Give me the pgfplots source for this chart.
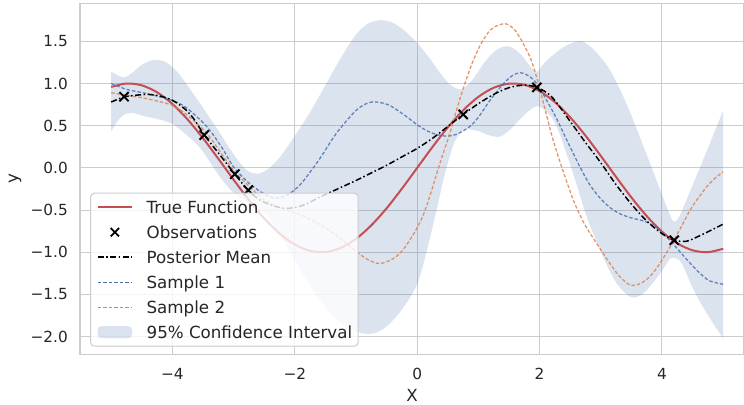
\documentclass[border=0pt]{standalone}
\usepackage{fontspec}
\setmainfont{DejaVu Sans}
\usepackage{pgfplots}
\pgfplotsset{compat=1.18}
\usepgfplotslibrary{fillbetween}
\definecolor{sred}{HTML}{C44E52}
\definecolor{sblue}{HTML}{4C72B0}
\definecolor{sorange}{HTML}{DD8452}
\definecolor{sgrid}{HTML}{CCCCCC}
\definecolor{stext}{HTML}{262626}
\pgfplotsset{bandlegend/.style={legend image code/.code={\fill[##1] (0bp,-6bp) rectangle (34.7bp,6bp);}}}
\begin{document}
\begin{tikzpicture}
\begin{axis}[
 at={(0,0)}, anchor=south west,
 scale only axis, width=664bp, height=351bp,
 xmin=-5.51, xmax=5.34, ymin=-2.21, ymax=1.95,
 axis line style={draw=sgrid, line width=1.25bp},
 grid=major, major grid style={draw=sgrid, line width=1bp},
 major tick length=0pt,
 xtick={-4,-2,0,2,4}, xticklabels={−4,−2,0,2,4},
 ytick={-2,-1.5,-1,-0.5,0,0.5,1,1.5},
 yticklabels={−2.0,−1.5,−1.0,−0.5,0.0,0.5,1.0,1.5},
 tick label style={font=\fontsize{15.3bp}{18bp}\selectfont, text=stext, inner sep=0pt},
 xticklabel style={anchor=center, yshift=-19.3bp},
 yticklabel style={anchor=east, xshift=-12bp},
 xlabel={X}, ylabel={y},
 label style={font=\fontsize{16.7bp}{20bp}\selectfont, text=stext, inner sep=0pt},
 xlabel style={at={(axis description cs:0.5,-0.1168)}, anchor=center},
 ylabel style={at={(axis description cs:-0.0979,0.5)}, anchor=center},
 legend cell align=left,
 legend image code/.code={\draw[mark repeat=2,mark phase=2,#1] plot coordinates {(0bp,0bp) (17.35bp,0bp) (34.7bp,0bp)};},
 legend style={at={(axis description cs:0.0151,0.4604)}, anchor=north west,
   draw=sgrid, line width=1bp, fill=white, fill opacity=0.8, text opacity=1, draw opacity=1,
   rounded corners=4bp, inner xsep=6bp, inner ysep=1.5bp,
   font=\fontsize{16.7bp}{20bp}\selectfont, text=stext, row sep=0pt,
   nodes={inner sep=0pt, text height=18.6bp, text depth=6.4bp},
   /tikz/every odd column/.append style={column sep=13.4bp}},
]
% 95% confidence band
\addplot[name path=up, draw=none, smooth, forget plot] coordinates {
(-5.00,1.14) (-4.90,1.10) (-4.79,1.07) (-4.65,1.13) (-4.50,1.22) (-4.30,1.28)
(-4.10,1.25) (-3.90,1.12) (-3.70,0.92) (-3.48,0.69) (-3.25,0.44) (-3.00,0.16)
(-2.80,-0.02) (-2.62,-0.07) (-2.45,-0.02) (-2.25,0.12) (-2.00,0.38) (-1.75,0.66)
(-1.50,0.98) (-1.25,1.30) (-1.00,1.58) (-0.80,1.71) (-0.60,1.75) (-0.40,1.72)
(-0.20,1.62) (0.00,1.48) (0.20,1.30) (0.40,1.10) (0.55,0.98) (0.72,0.93)
(0.90,1.04) (1.10,1.25) (1.30,1.40) (1.50,1.44) (1.70,1.34) (1.85,1.20)
(1.96,1.14) (2.10,1.26) (2.33,1.40) (2.50,1.47) (2.69,1.50) (2.90,1.39)
(3.15,1.16) (3.42,0.76) (3.70,0.25) (3.97,-0.26) (4.13,-0.56) (4.20,-0.64)
(4.28,-0.58) (4.40,-0.38) (4.67,0.09) (5.00,0.68)};
\addplot[name path=lo, draw=none, smooth, forget plot] coordinates {
(-5.00,0.43) (-4.90,0.55) (-4.79,0.63) (-4.64,0.65) (-4.45,0.61) (-4.20,0.57)
(-4.00,0.52) (-3.80,0.41) (-3.60,0.28) (-3.48,0.17) (-3.22,-0.11) (-3.00,-0.30)
(-2.85,-0.37) (-2.70,-0.44) (-2.46,-0.56) (-2.20,-0.85) (-2.00,-1.10) (-1.70,-1.45)
(-1.40,-1.74) (-1.15,-1.89) (-0.90,-1.96) (-0.70,-1.96) (-0.50,-1.88) (-0.25,-1.68)
(0.00,-1.38) (0.15,-1.00) (0.30,-0.55) (0.45,-0.08) (0.60,0.29) (0.75,0.45)
(0.90,0.45) (1.02,0.43) (1.20,0.38) (1.35,0.37) (1.50,0.44) (1.62,0.53)
(1.80,0.66) (1.96,0.73) (2.12,0.66) (2.28,0.49) (2.55,-0.07) (2.77,-0.58)
(3.04,-1.06) (3.25,-1.36) (3.48,-1.53) (3.65,-1.51) (3.80,-1.41) (4.00,-1.22)
(4.13,-1.08) (4.22,-1.07) (4.32,-1.13) (4.50,-1.42) (4.67,-1.65) (4.85,-1.86)
(5.00,-2.02)};
\addplot[fill=sblue, fill opacity=0.2, draw=none, forget plot] fill between[of=up and lo];
% true function
\addplot[sred, line width=2bp, smooth, forget plot] coordinates {
(-5.00,0.9589) (-4.75,0.9993) (-4.50,0.9775) (-4.25,0.8950) (-4.00,0.7568)
(-3.75,0.5716) (-3.50,0.3508) (-3.25,0.1082) (-3.00,-0.1411) (-2.75,-0.3817)
(-2.50,-0.5985) (-2.25,-0.7781) (-2.00,-0.9093) (-1.75,-0.9840) (-1.50,-0.9975)
(-1.25,-0.9490) (-1.00,-0.8415) (-0.75,-0.6816) (-0.50,-0.4794) (-0.25,-0.2474)
(0.00,0.0000) (0.25,0.2474) (0.50,0.4794) (0.75,0.6816) (1.00,0.8415)
(1.25,0.9490) (1.50,0.9975) (1.75,0.9840) (2.00,0.9093) (2.25,0.7781)
(2.50,0.5985) (2.75,0.3817) (3.00,0.1411) (3.25,-0.1082) (3.50,-0.3508)
(3.75,-0.5716) (4.00,-0.7568) (4.25,-0.8950) (4.50,-0.9775) (4.75,-0.9993)
(5.00,-0.9589)};
% sample 1
\addplot[sblue, draw opacity=0.85, line width=1.3bp, dash pattern=on 3.5bp off 2bp, smooth, forget plot] coordinates {
(-5.00,1.00) (-4.75,0.93) (-4.42,0.88) (-4.00,0.80) (-3.75,0.70) (-3.44,0.49)
(-3.20,0.25) (-3.00,0.01) (-2.75,-0.18) (-2.50,-0.31) (-2.30,-0.36) (-2.10,-0.31)
(-1.90,-0.19) (-1.60,0.10) (-1.32,0.41) (-1.00,0.68) (-0.80,0.77) (-0.66,0.78)
(-0.45,0.74) (-0.20,0.62) (0.04,0.49) (0.25,0.41) (0.48,0.375) (0.65,0.40)
(0.86,0.49) (1.00,0.60) (1.19,0.80) (1.40,0.99) (1.55,1.09) (1.68,1.127)
(1.82,1.09) (1.95,1.00) (2.10,0.82) (2.28,0.58) (2.45,0.32) (2.66,0.01)
(2.82,-0.20) (2.99,-0.36) (3.15,-0.47) (3.30,-0.54) (3.48,-0.59) (3.65,-0.62)
(3.80,-0.66) (3.95,-0.73) (4.13,-0.86) (4.30,-1.00) (4.46,-1.13) (4.62,-1.25)
(4.78,-1.34) (5.00,-1.38)};
% sample 2
\addplot[sorange, draw opacity=0.85, line width=1.3bp, dash pattern=on 3.5bp off 2bp, smooth, forget plot] coordinates {
(-5.00,0.89) (-4.75,0.86) (-4.42,0.82) (-4.00,0.74) (-3.75,0.62) (-3.44,0.41)
(-3.20,0.17) (-3.00,-0.03) (-2.73,-0.23) (-2.50,-0.38) (-2.25,-0.47) (-2.00,-0.53)
(-1.75,-0.61) (-1.50,-0.71) (-1.25,-0.84) (-1.00,-0.99) (-0.80,-1.09) (-0.61,-1.134)
(-0.40,-1.08) (-0.23,-0.97) (0.00,-0.71) (0.15,-0.46) (0.37,0.05) (0.53,0.40)
(0.64,0.68) (0.78,1.00) (0.92,1.28) (1.05,1.48) (1.19,1.63) (1.32,1.69)
(1.46,1.705) (1.60,1.63) (1.73,1.476) (1.85,1.30) (1.95,1.08) (2.08,0.72)
(2.22,0.33) (2.38,-0.03) (2.55,-0.38) (2.70,-0.62) (2.82,-0.77) (3.00,-0.97)
(3.15,-1.134) (3.30,-1.28) (3.48,-1.39) (3.65,-1.37) (3.80,-1.29) (3.95,-1.15)
(4.13,-0.937) (4.30,-0.72) (4.46,-0.50) (4.60,-0.35) (4.73,-0.225) (4.87,-0.12)
(5.00,-0.047)};
% posterior mean
\addplot[black, line width=1.5bp, dash pattern=on 6bp off 2.5bp on 1.5bp off 2.5bp, smooth, forget plot] coordinates {
(-5.00,0.78) (-4.90,0.81) (-4.79,0.84) (-4.60,0.86) (-4.40,0.87) (-4.20,0.85)
(-4.00,0.80) (-3.80,0.70) (-3.65,0.58) (-3.48,0.39) (-3.22,0.15) (-2.98,-0.075)
(-2.76,-0.265) (-2.55,-0.39) (-2.30,-0.46) (-2.10,-0.48) (-1.85,-0.44) (-1.60,-0.35)
(-1.30,-0.25) (-1.00,-0.15) (-0.75,-0.06) (-0.50,0.03) (-0.25,0.13) (0.00,0.23)
(0.25,0.35) (0.50,0.49) (0.75,0.633) (1.00,0.76) (1.25,0.87) (1.50,0.95)
(1.75,0.98) (1.96,0.953) (2.20,0.84) (2.50,0.55) (2.75,0.30) (3.00,0.06)
(3.25,-0.20) (3.50,-0.43) (3.75,-0.63) (4.00,-0.78) (4.20,-0.858) (4.40,-0.87)
(4.60,-0.81) (4.80,-0.74) (5.00,-0.667)};
% observations
\addplot[only marks, mark=x, mark size=6.5bp, mark options={black, line width=1.9bp}, forget plot] coordinates {
(-4.79,0.843) (-3.48,0.388) (-2.98,-0.075) (-2.76,-0.265) (0.752,0.633) (1.956,0.953) (4.20,-0.858)};
\addlegendimage{draw=sred, line width=2bp}
\addlegendimage{only marks, mark=x, mark size=5.9bp, mark options={draw=black, line width=1.8bp}}
\addlegendimage{draw=black, line width=1.5bp, dash pattern=on 6bp off 2.5bp on 1.5bp off 2.5bp}
\addlegendimage{draw=sblue, line width=1.3bp, dash pattern=on 3.5bp off 2bp}
\addlegendimage{draw=sorange, line width=1.3bp, dash pattern=on 3.5bp off 2bp}
\addlegendimage{bandlegend, fill=sblue, fill opacity=0.2, draw=none}
\legend{True Function, Observations, Posterior Mean, Sample 1, Sample 2, 95\% Confidence Interval}
\end{axis}
\pgfresetboundingbox
\path[use as bounding box] (-80bp,-50bp) rectangle (664bp,354.3bp);
\end{tikzpicture}
\end{document}
